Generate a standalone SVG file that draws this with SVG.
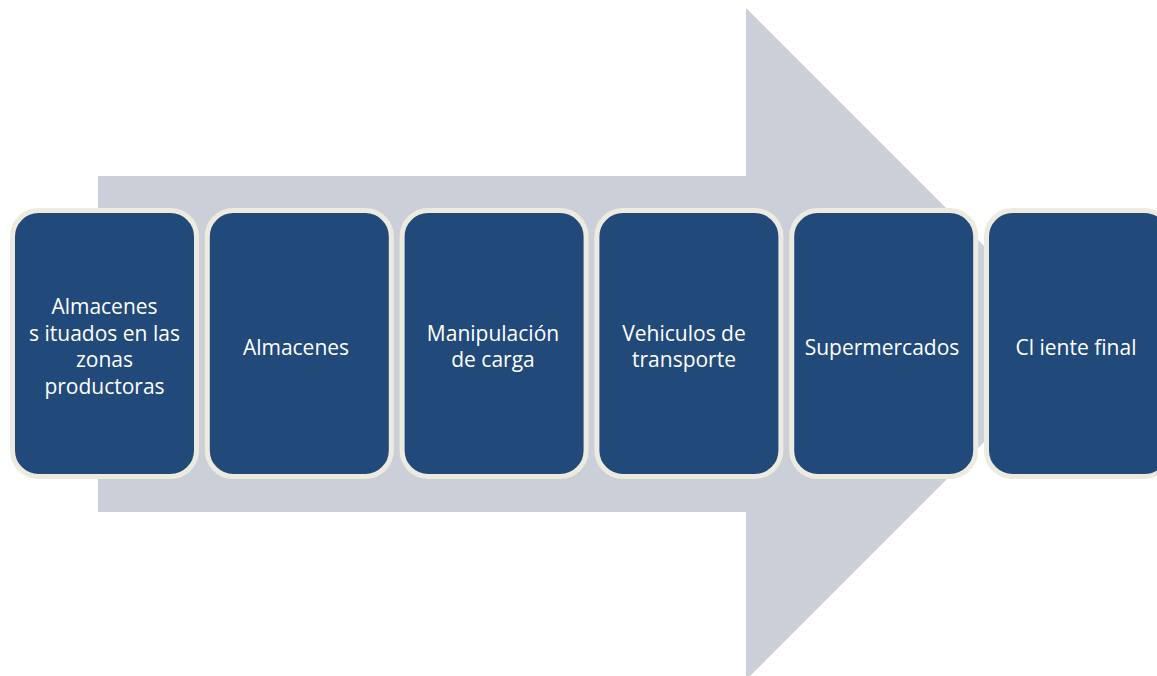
<svg xmlns="http://www.w3.org/2000/svg" width="1157" height="676" viewBox="0 0 1157 676">
<style>
.box{fill:#214A7B;stroke:#EDEBE0;stroke-width:5}
.lbl{fill:#FFFFFF;font-family:"Open Sans","Noto Sans",sans-serif;font-size:21px;text-anchor:middle}
</style>
<rect width="1157" height="676" fill="#FFFFFF"/>
<g id="connectors">
<polygon points="98,176 746,176 746,8 1082,344 746,680 746,512 98,512" fill="#CBCFD7"/>
</g>
<g id="node1">
<rect class="box" x="12.5" y="210.5" width="184" height="266" rx="26"/>
<text class="lbl" x="104.5" y="314">Almacenes</text>
<text class="lbl" x="104.5" y="341">s ituados en las</text>
<text class="lbl" x="104.5" y="367">zonas</text>
<text class="lbl" x="104.5" y="394">productoras</text>
</g>
<g id="node2">
<rect class="box" x="207.3" y="210.5" width="184" height="266" rx="26"/>
<text class="lbl" x="296" y="355">Almacenes</text>
</g>
<g id="node3">
<rect class="box" x="402.1" y="210.5" width="184" height="266" rx="26"/>
<text class="lbl" x="493" y="341">Manipulación</text>
<text class="lbl" x="493" y="367">de carga</text>
</g>
<g id="node4">
<rect class="box" x="596.9" y="210.5" width="184" height="266" rx="26"/>
<text class="lbl" x="684" y="341">Vehiculos de</text>
<text class="lbl" x="684" y="367">transporte</text>
</g>
<g id="node5">
<rect class="box" x="791.7" y="210.5" width="184" height="266" rx="26"/>
<text class="lbl" x="882" y="355">Supermercados</text>
</g>
<g id="node6">
<rect class="box" x="986.5" y="210.5" width="184" height="266" rx="26"/>
<text class="lbl" x="1076" y="355">Cl iente final</text>
</g>
</svg>
